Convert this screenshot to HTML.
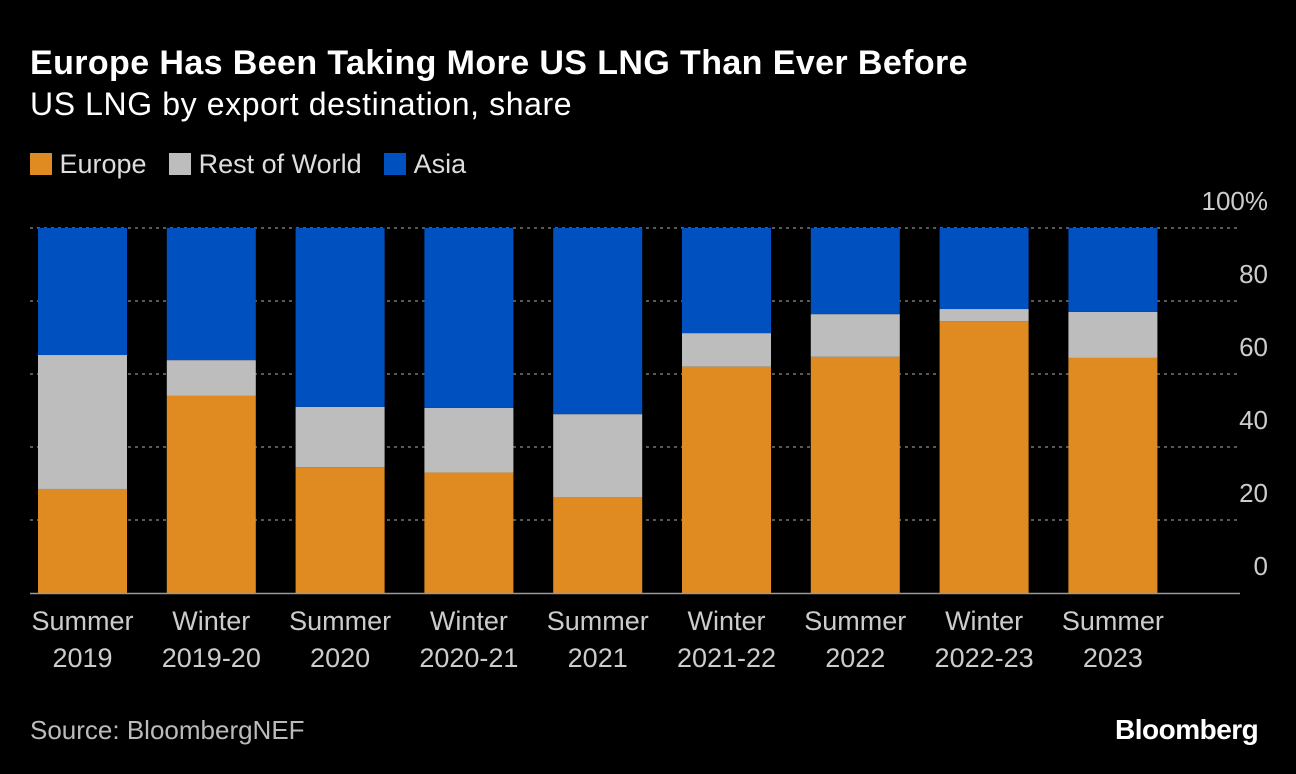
<!DOCTYPE html>
<html><head><meta charset="utf-8"><style>
body{margin:0;background:#000;width:1296px;height:774px;overflow:hidden;font-family:"Liberation Sans",sans-serif;color:#fff}
.t{position:absolute;white-space:nowrap}
</style></head><body>
<div class="t" style="left:30px;top:44px;font-size:34px;font-weight:bold;letter-spacing:0.4px">Europe Has Been Taking More US LNG Than Ever Before</div>
<div class="t" style="left:30px;top:86px;font-size:32px;letter-spacing:0.6px">US LNG by export destination, share</div>
<div class="t" style="left:30px;top:149px;font-size:27px;color:#ddd">
<span><span style="display:inline-block;width:22px;height:22px;background:#e08b22;vertical-align:-2px"></span>&nbsp;Europe</span>&nbsp;&nbsp;
<span><span style="display:inline-block;width:22px;height:22px;background:#bdbdbd;vertical-align:-2px"></span>&nbsp;Rest of World</span>&nbsp;&nbsp;
<span><span style="display:inline-block;width:22px;height:22px;background:#0050c0;vertical-align:-2px"></span>&nbsp;Asia</span></div>
<svg id="c" width="1296" height="774" style="position:absolute;left:0;top:0"></svg>
<div class="t" style="left:30px;top:715px;font-size:26px;color:#bbb">Source: BloombergNEF</div>
<div class="t" style="left:1115px;top:714px;font-size:28px;font-weight:bold;letter-spacing:-0.5px">Bloomberg</div>
<script>
const categories=[["Summer","2019"],["Winter","2019-20"],["Summer","2020"],["Winter","2020-21"],["Summer","2021"],["Winter","2021-22"],["Summer","2022"],["Winter","2022-23"],["Summer","2023"]];
const europe=[28.5,54,34.5,33,26.3,62,64.7,74.5,64.4];
const restOfWorld=[36.7,9.8,16.5,17.7,22.7,9.2,11.7,3.3,12.6];
const asia=[34.8,36.2,49,49.3,51,28.8,23.6,22.2,23];
const ticks=[0,20,40,60,80,100];
const ns="http://www.w3.org/2000/svg",svg=document.getElementById('c');
const y=v=>593-v*3.65, x=i=>38+i*128.8, bw=89;
function mk(t,a){const e=document.createElementNS(ns,t);for(const k in a)e.setAttribute(k,a[k]);svg.appendChild(e);return e;}
ticks.forEach(t=>{
 if(t>0){const l=mk('line',{x1:30,x2:1240,y1:y(t),y2:y(t),stroke:'#777','stroke-dasharray':'3,4','stroke-width':1.5});
 
 }
 const tx=mk('text',{x:1268,y:y(t)-18,'text-anchor':'end',fill:'#ccc','font-size':26,'font-family':'Liberation Sans'});
 tx.textContent=t===100?'100%':t;
 
 
});
categories.forEach((c,i)=>{
 const segs=[[0,europe[i],'#e08b22','europe'],[europe[i],europe[i]+restOfWorld[i],'#bdbdbd','rest-of-world'],[europe[i]+restOfWorld[i],europe[i]+restOfWorld[i]+asia[i],'#0050c0','asia']];
 segs.forEach(s=>{const r=mk('rect',{x:x(i),y:y(s[1]),width:bw,height:y(s[0])-y(s[1]),fill:s[2]});
 
 });
 c.forEach((l,j)=>{const tx=mk('text',{x:x(i)+bw/2,y:630+j*37,'text-anchor':'middle',fill:'#ccc','font-size':27,'font-family':'Liberation Sans'});tx.textContent=l;
 
 });
});
const b=mk('line',{x1:30,x2:1240,y1:593.5,y2:593.5,stroke:'#999','stroke-width':1.5});


</script>
</body></html>
